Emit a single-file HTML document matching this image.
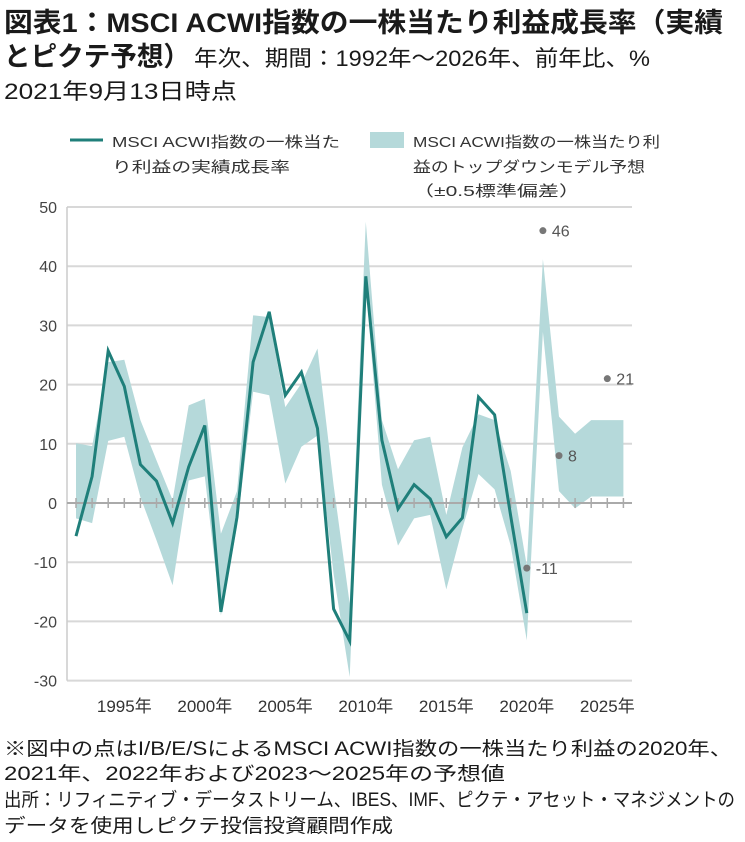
<!DOCTYPE html>
<html><head><meta charset="utf-8"><style>
html,body{margin:0;padding:0;background:#fff;}
svg{display:block;font-family:"Liberation Sans","Noto Sans CJK JP",sans-serif;}
</style></head><body>
<svg width="745" height="842" viewBox="0 0 745 842">
<g fill="#1a1a1a">
<text x="4" y="32" font-size="27" font-weight="bold" textLength="719" lengthAdjust="spacingAndGlyphs">図表1：MSCI ACWI指数の一株当たり利益成長率（実績</text>
<text x="4" y="66" font-size="27" font-weight="bold" textLength="186" lengthAdjust="spacingAndGlyphs">とピクテ予想）</text>
<text x="194" y="66" font-size="22" textLength="456" lengthAdjust="spacingAndGlyphs">年次、期間：1992年～2026年、前年比、%</text>
<text x="4" y="99" font-size="22" textLength="233" lengthAdjust="spacingAndGlyphs">2021年9月13日時点</text>
</g>
<g fill="#333" font-size="15">
<line x1="70" y1="140" x2="103" y2="140" stroke="#1f7f7a" stroke-width="3"/>
<text x="112" y="147" textLength="228" lengthAdjust="spacingAndGlyphs">MSCI ACWI指数の一株当た</text>
<text x="112" y="172" textLength="178" lengthAdjust="spacingAndGlyphs">り利益の実績成長率</text>
<rect x="370" y="132" width="34" height="16" fill="#b5d9da"/>
<text x="413" y="147" textLength="247" lengthAdjust="spacingAndGlyphs">MSCI ACWI指数の一株当たり利</text>
<text x="413" y="172" textLength="232" lengthAdjust="spacingAndGlyphs">益のトップダウンモデル予想</text>
<text x="413" y="196" textLength="167" lengthAdjust="spacingAndGlyphs">（±0.5標準偏差）</text>
</g>
<g id="plot"></g>
<g fill="#1a1a1a" font-size="19">
<text x="4" y="755" textLength="728" lengthAdjust="spacingAndGlyphs">※図中の点はI/B/E/SによるMSCI ACWI指数の一株当たり利益の2020年、</text>
<text x="4" y="780" textLength="501" lengthAdjust="spacingAndGlyphs">2021年、2022年および2023～2025年の予想値</text>
<text x="4" y="806" textLength="731" lengthAdjust="spacingAndGlyphs">出所：リフィニティブ・データストリーム、IBES、IMF、ピクテ・アセット・マネジメントの</text>
<text x="4" y="832" textLength="389" lengthAdjust="spacingAndGlyphs">データを使用しピクテ投信投資顧問作成</text>
</g>
</svg>
<script>
const years=[1992,1993,1994,1995,1996,1997,1998,1999,2000,2001,2002,2003,2004,2005,2006,2007,2008,2009,2010,2011,2012,2013,2014,2015,2016,2017,2018,2019,2020];
const actual=[-5.6,4.5,25.7,19.7,6.5,3.7,-3.4,6.1,13.1,-18.4,-2.4,23.8,32.3,18.2,22.1,12.6,-17.9,-23.3,38.3,10.6,-1,3.1,0.7,-5.7,-2.5,17.9,14.9,-2.2,-18.6];
const bandYears=[1992,1993,1994,1995,1996,1997,1998,1999,2000,2001,2002,2003,2004,2005,2006,2007,2008,2009,2010,2011,2012,2013,2014,2015,2016,2017,2018,2019,2020,2021,2022,2023,2024,2025,2026];
const bandUpper=[10.1,9.6,23.8,24.2,14,7.2,0.5,16.5,17.6,-5.2,2,31.7,31.4,16.2,20.2,26.1,3,-17,47.5,14,5.7,10.6,11.2,-2,9.4,15,14,5.4,-10.6,41.2,14.6,11.7,14,14,14];
const bandLower=[-2.6,-3.4,10.5,11.2,1,-6.3,-13.9,3.8,4.5,-19,-4,18.8,18.2,3.3,9.5,11.4,-12,-29.4,37,3.1,-7.2,-2.6,-2,-14.6,-4.3,4.9,2.3,-7.2,-23.2,28.9,2,-0.9,1.1,1.1,1.1];
const dotYears=[2020,2021,2022,2025];
const dotValues=[-11,46,8,21];
const dotLabels=["-11","46","8","21"];
const yTicks=[50,40,30,20,10,0,-10,-20,-30];
const xTickYears=[1995,2000,2005,2010,2015,2020,2025];

const NS="http://www.w3.org/2000/svg";
const g=document.getElementById('plot');
const x=yr=>76+(yr-1992)*16.1;
const y=v=>503-v*5.92;
function mk(tag,attrs){const e=document.createElementNS(NS,tag);for(const k in attrs)e.setAttribute(k,attrs[k]);g.appendChild(e);return e;}

yTicks.forEach(t=>{
  const l=mk('line',{x1:67,x2:632,y1:y(t),y2:y(t),stroke:t===0?'#aaa':'#d8d8d8','stroke-width':t===0?2:2});
  
  
  const tx=mk('text',{x:57,y:y(t)+6,'text-anchor':'end','font-size':16,fill:'#444'});
  tx.textContent=t;
  
  
});
const ax=mk('line',{x1:67,x2:67,y1:y(50),y2:y(-30),stroke:'#ccc','stroke-width':1.5});



let pts=bandYears.map((yr,i)=>x(yr)+','+y(bandUpper[i]));
for(let i=bandYears.length-1;i>=0;i--)pts.push(x(bandYears[i])+','+y(bandLower[i]));
const band=mk('polygon',{points:pts.join(' '),fill:'#b5d9da'});



bandYears.forEach(yr=>{
  const t=mk('line',{x1:x(yr),x2:x(yr),y1:y(0)-5,y2:y(0)+5,stroke:'#aaa','stroke-width':1.5});
  
  
});
const zl=mk('line',{x1:67,x2:632,y1:y(0),y2:y(0),stroke:'#aaa','stroke-width':2});



const line=mk('polyline',{points:years.map((yr,i)=>x(yr)+','+y(actual[i])).join(' '),fill:'none',stroke:'#1f7f7a','stroke-width':3,'stroke-linejoin':'miter'});



dotYears.forEach((yr,i)=>{
  const c=mk('circle',{cx:x(yr),cy:y(dotValues[i]),r:3.5,fill:'#777'});
  
  
  const t=mk('text',{x:x(yr)+9,y:y(dotValues[i])+6,'font-size':16,fill:'#555'});
  t.textContent=dotLabels[i];
  
  
});

xTickYears.forEach(yr=>{
  const t=mk('text',{x:x(yr),y:712,'text-anchor':'middle','font-size':17,fill:'#333'});
  t.textContent=yr+'年';
  
  
});
</script>
</body></html>
